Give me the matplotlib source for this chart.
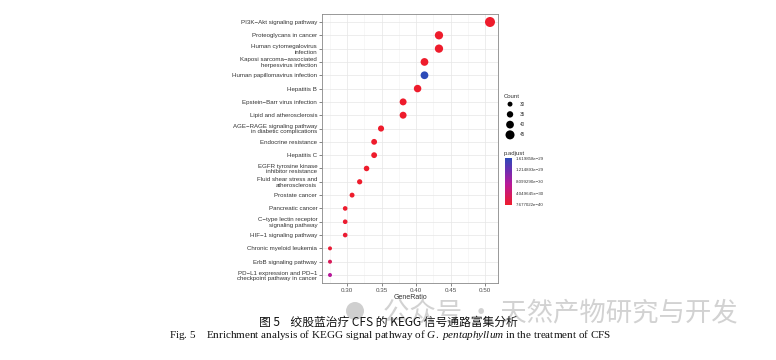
import numpy as np
import matplotlib
matplotlib.use("Agg")
import matplotlib.pyplot as plt
from matplotlib.colors import LinearSegmentedColormap, Normalize
from matplotlib.colorbar import ColorbarBase
from matplotlib.patches import Circle

plt.rcParams['font.family'] = ['Liberation Sans', 'DejaVu Sans']
plt.rcParams['mathtext.fontset'] = 'custom'
plt.rcParams['mathtext.rm'] = 'Liberation Serif'
plt.rcParams['mathtext.it'] = 'Liberation Serif:italic'

# KEGG pathways, top to bottom
pathways = [
    "PI3K\u2212Akt signaling pathway",
    "Proteoglycans in cancer",
    "Human cytomegalovirus\ninfection",
    "Kaposi sarcoma\u2212associated\nherpesvirus infection",
    "Human papillomavirus infection",
    "Hepatitis B",
    "Epstein\u2212Barr virus infection",
    "Lipid and atherosclerosis",
    "AGE\u2212RAGE signaling pathway\nin diabetic complications",
    "Endocrine resistance",
    "Hepatitis C",
    "EGFR tyrosine kinase\ninhibitor resistance",
    "Fluid shear stress and\natherosclerosis",
    "Prostate cancer",
    "Pancreatic cancer",
    "C\u2212type lectin receptor\nsignaling pathway",
    "HIF\u22121 signaling pathway",
    "Chronic myeloid leukemia",
    "ErbB signaling pathway",
    "PD\u2212L1 expression and PD\u22121\ncheckpoint pathway in cancer",
]
gene_ratio = [0.507, 0.433, 0.433, 0.412, 0.412, 0.402, 0.381, 0.381, 0.349, 0.339,
              0.339, 0.328, 0.318, 0.307, 0.297, 0.297, 0.297, 0.275, 0.275, 0.275]
counts = [49, 42, 42, 40, 40, 39, 37, 37, 34, 33, 33, 32, 31, 30, 29, 29, 29, 27, 27, 27]
p_adjust = [7.677022e-40, 2.1e-37, 5.3e-36, 1.1e-35, 1.619858e-29, 3.2e-35, 8.8e-35,
            1.5e-34, 6.2e-34, 2.4e-33, 4.1e-33, 9.5e-33, 2.2e-32, 6.0e-32, 1.8e-31,
            3.3e-31, 4.6e-31, 6.5e-31, 3.0e-30, 7.4e-30]

size_breaks = [30, 35, 40, 45]
color_breaks = [7.677022e-40, 4.049645e-30, 8.099290e-30, 1.214893e-29, 1.619858e-29]
color_break_labels = ["7.677022e\u221240", "4.049645e\u221230", "8.099290e\u221230",
                      "1.214893e\u221229", "1.619858e\u221229"]

W, H = 776, 360
fig = plt.figure(figsize=(W / 100, H / 100), dpi=100)
fig.patch.set_facecolor('white')

cmap = LinearSegmentedColormap.from_list(
    'padj', [(0, '#EE1C2C'), (0.45, '#B8199A'), (0.75, '#6A2FB2'), (1, '#2D4BB8')])
norm = Normalize(vmin=min(p_adjust), vmax=max(p_adjust))

cmin, cmax = np.sqrt(min(counts)), np.sqrt(max(counts))


def dot_size(c):
    # diametre en px proporcional a sqrt(count), como scale_size de ggplot
    d_px = 4 + 6 * (np.sqrt(c) - cmin) / (cmax - cmin)
    d_pt = d_px * 72 / 100
    return d_pt ** 2


def fx(px):
    return px / W


def fy(py):
    return 1 - py / H


# panel principal
ax = fig.add_axes([fx(322), fy(283), fx(498) - fx(322), fy(14) - fy(283)])
y = np.arange(len(pathways))
ax.scatter(gene_ratio, y, s=[dot_size(c) for c in counts],
           c=[cmap(norm(p)) for p in p_adjust], edgecolors='none', zorder=3)
xr = max(gene_ratio) - min(gene_ratio)
ax.set_xlim(min(gene_ratio) - 0.05 * xr, max(gene_ratio) + 0.05 * xr)
ax.set_ylim(len(pathways) - 0.4, -0.6)
ax.set_yticks(y)
ax.set_yticklabels(pathways, fontsize=4.4, color='#333333', linespacing=1.1)
xt = [0.30, 0.35, 0.40, 0.45, 0.50]
ax.set_xticks(xt)
ax.set_xticklabels(["%.2f" % v for v in xt], fontsize=4.5, color='#4d4d4d')
ax.set_xticks([0.275, 0.325, 0.375, 0.425, 0.475], minor=True)
ax.tick_params(axis='both', length=2, width=0.5, color='#555555', pad=1.5)
ax.tick_params(axis='x', which='minor', length=0)
ax.grid(True, which='major', color='#e6e6e6', linewidth=0.5, zorder=0)
ax.grid(True, which='minor', axis='x', color='#f2f2f2', linewidth=0.4, zorder=0)
ax.set_axisbelow(True)
for sp in ax.spines.values():
    sp.set_color('#888888')
    sp.set_linewidth(0.6)
ax.set_xlabel("GeneRatio", fontsize=5, color='#333333', labelpad=1)

# leyenda de tamaño
fig.text(fx(504), fy(96), "Count", fontsize=4.3, color='#333333', va='center')
lax = fig.add_axes([fx(503), fy(140), fx(530) - fx(503), fy(99) - fy(140)])
lax.set_xlim(0, 1)
lax.set_ylim(len(size_breaks) - 0.5, -0.5)
lax.axis('off')
ly = np.arange(len(size_breaks))
lax.scatter([0.26] * len(size_breaks), ly, s=[dot_size(v) for v in size_breaks],
            color='black', edgecolors='none')
for yy, v in zip(ly, size_breaks):
    lax.text(0.62, yy, str(v), fontsize=3.3, color='#333333', va='center')

# leyenda de color
fig.text(fx(504), fy(153), "p.adjust", fontsize=4.3, color='#333333', va='center')
cax = fig.add_axes([fx(505), fy(205), fx(512) - fx(505), fy(158) - fy(205)])
cb = ColorbarBase(cax, cmap=cmap, norm=norm, orientation='vertical')
cb.outline.set_visible(False)
cb.set_ticks(color_breaks)
cb.set_ticklabels(color_break_labels)
cax.tick_params(labelsize=3.2, length=1.5, width=0.4, color='white', pad=1,
                labelcolor='#333333')

# marca de agua
fig.patches.append(Circle((3.55, (H - 311) / 100), 0.09, transform=fig.dpi_scale_trans,
                          facecolor='#cfcfcf', edgecolor='none', zorder=0))
fig.text(fx(383), fy(313), "公众号 · 天然产物研究与开发", fontsize=19, color='#d2d2d2',
         family=['Noto Sans CJK SC', 'DejaVu Sans'], va='center', ha='left', zorder=0)

# pies de figura
fig.text(fx(388), fy(322), "图 5    绞股蓝治疗 CFS 的 KEGG 信号通路富集分析", fontsize=8.5,
         family=['Noto Sans CJK SC', 'DejaVu Sans'], ha='center', va='center', color='#111111')
fig.text(fx(390), fy(335),
         r"Fig. 5    Enrichment analysis of KEGG signal pathway of $\mathit{G.\ pentaphyllum}$ in the treatment of CFS",
         fontsize=8, family='Liberation Serif', ha='center', va='center', color='#111111')

fig.savefig("out.png", dpi=100)
